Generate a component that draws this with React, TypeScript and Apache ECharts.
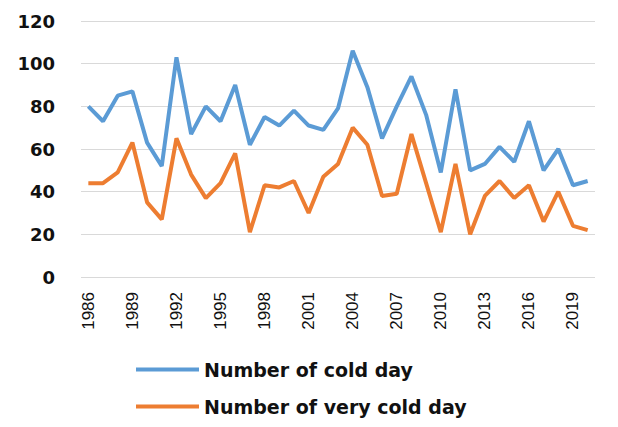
import React, { useEffect, useRef } from "react";
import * as echarts from "echarts";

const years: string[] = [
  "1986","1987","1988","1989","1990","1991","1992","1993","1994","1995",
  "1996","1997","1998","1999","2000","2001","2002","2003","2004","2005",
  "2006","2007","2008","2009","2010","2011","2012","2013","2014","2015",
  "2016","2017","2018","2019","2020",
];

const coldDays: number[] = [
  80, 73, 85, 87, 63, 52, 103, 67, 80, 73,
  90, 62, 75, 71, 78, 71, 69, 79, 106, 89,
  65, 80, 94, 76, 49, 88, 50, 53, 61, 54,
  73, 50, 60, 43, 45,
];

const veryColdDays: number[] = [
  44, 44, 49, 63, 35, 27, 65, 48, 37, 44,
  58, 21, 43, 42, 45, 30, 47, 53, 70, 62,
  38, 39, 67, 44, 21, 53, 20, 38, 45, 37,
  43, 26, 40, 24, 22,
];

const seriesNames: string[] = ["Number of cold day", "Number of very cold day"];

export default function App() {
  const ref = useRef<HTMLDivElement>(null);
  useEffect(() => {
    if (!ref.current) return;
    const chart = echarts.init(ref.current, null, { renderer: "svg" });
    chart.setOption({
      animation: false,
      grid: { left: 81, right: 23, top: 21, bottom: 150 },
      legend: {
        orient: "vertical",
        left: 131,
        top: 355,
        itemWidth: 63,
        itemHeight: 4,
        itemGap: 18,
        icon: "rect",
        data: [
          { name: seriesNames[0], itemStyle: { color: "#5B9BD5" } },
          { name: seriesNames[1], itemStyle: { color: "#ED7D31" } },
        ],
        textStyle: {
          fontFamily: "DejaVu Sans",
          fontWeight: "bold",
          fontSize: 19,
          color: "#111",
        },
      },
      xAxis: {
        type: "category",
        data: years,
        boundaryGap: true,
        axisLine: { show: false },
        axisTick: { show: false },
        axisLabel: {
          interval: 2,
          rotate: 90,
          margin: 15,
          fontFamily: "Liberation Sans",
          fontSize: 17,
          color: "#111",
        },
      },
      yAxis: {
        type: "value",
        min: 0,
        max: 120,
        interval: 20,
        axisLine: { show: false },
        axisTick: { show: false },
        splitLine: { lineStyle: { color: "#d9d9d9", width: 1 } },
        axisLabel: {
          margin: 26,
          fontFamily: "DejaVu Sans",
          fontWeight: "bold",
          fontSize: 18,
          color: "#111",
        },
      },
      series: [
        {
          name: seriesNames[0],
          type: "line",
          data: coldDays,
          symbol: "none",
          lineStyle: { color: "#5B9BD5", width: 4 },
          itemStyle: { color: "#5B9BD5" },
        },
        {
          name: seriesNames[1],
          type: "line",
          data: veryColdDays,
          symbol: "none",
          lineStyle: { color: "#ED7D31", width: 4 },
          itemStyle: { color: "#ED7D31" },
        },
      ],
    });
    return () => chart.dispose();
  }, []);
  return (
    <div
      ref={ref}
      style={{ position: "absolute", left: 0, top: 0, width: 618, height: 427 }}
    />
  );
}
